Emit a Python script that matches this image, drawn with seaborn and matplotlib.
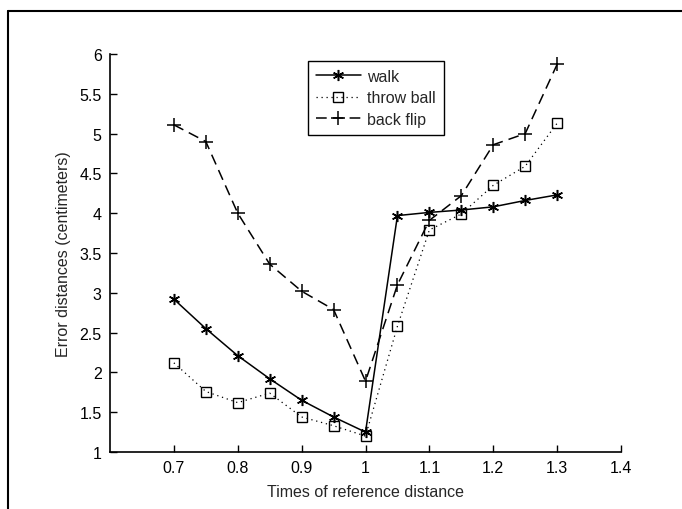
import matplotlib
matplotlib.use("Agg")
import matplotlib.pyplot as plt
import seaborn as sns
import pandas as pd
from matplotlib.lines import Line2D

sns.set_style("ticks")
plt.rcParams['font.family'] = ['Liberation Sans', 'DejaVu Sans']

x = [0.7, 0.75, 0.8, 0.85, 0.9, 0.95, 1.0, 1.05, 1.1, 1.15, 1.2, 1.25, 1.3]
walk = [2.92, 2.55, 2.21, 1.92, 1.65, 1.44, 1.25, 3.97, 4.01, 4.04, 4.08, 4.16, 4.23]
throw_ball = [2.12, 1.76, 1.62, 1.74, 1.44, 1.33, 1.2, 2.58, 3.79, 3.99, 4.35, 4.59, 5.13]
back_flip = [5.11, 4.9, 4.0, 3.36, 3.02, 2.79, 1.89, 3.1, 3.91, 4.22, 4.86, 5.0, 5.87]
labels = ["walk", "throw ball", "back flip"]
xticks = [0.7, 0.8, 0.9, 1.0, 1.1, 1.2, 1.3, 1.4]
yticks = [1, 1.5, 2, 2.5, 3, 3.5, 4, 4.5, 5, 5.5, 6]

fig = plt.figure(figsize=(6.82, 5.10), dpi=100)
ax = fig.add_axes([110/682, 1-453/510, 511/682, 398/510])

FS = 11.5
styles = [
    dict(linestyle='-', linewidth=1.1, marker=(6, 2, 0), markersize=8, mfc='none', mew=1.1),
    dict(linestyle=(0, (1, 3)), linewidth=0.9, marker='s', markersize=7, mfc='none', mew=1.0),
    dict(linestyle=(0, (7, 4)), linewidth=1.1, marker='+', markersize=10, mew=1.1),
]
for lab, vals, st in zip(labels, [walk, throw_ball, back_flip], styles):
    df = pd.DataFrame({"x": x, "y": vals})
    sns.lineplot(data=df, x="x", y="y", ax=ax, color='black',
                 mec='black', label=lab, legend=False, **st)

ax.set_xlim(0.6, 1.4)
ax.set_ylim(1, 6)
ax.set_xticks(xticks)
ax.set_xticklabels(["0.7", "0.8", "0.9", "1", "1.1", "1.2", "1.3", "1.4"])
ax.set_yticks(yticks)
ax.set_yticklabels(["1", "1.5", "2", "2.5", "3", "3.5", "4", "4.5", "5", "5.5", "6"])
ax.tick_params(direction='in', length=5, width=1, labelsize=FS, colors='black', pad=6)
for s in ['top', 'right']:
    ax.spines[s].set_visible(False)
for s in ['left', 'bottom']:
    ax.spines[s].set_linewidth(1.2)
    ax.spines[s].set_color('black')
ax.set_xlabel("Times of reference distance", fontsize=FS, labelpad=6)
ax.set_ylabel("Error distances (centimeters)", fontsize=FS, labelpad=6)

handles = [Line2D([], [], color='black', mec='black', **st) for st in styles]
leg = fig.legend(handles, labels, loc='upper left',
                 bbox_to_anchor=(308/682, 1-62/510), fontsize=FS, borderaxespad=0,
                 frameon=True, fancybox=False, framealpha=1, edgecolor='black',
                 handlelength=2.8, borderpad=0.5, labelspacing=0.4, handletextpad=0.4)
leg.get_frame().set_linewidth(1.0)

# outer frame
fig.add_artist(Line2D([8/682, 8/682], [0, 1-12/510], transform=fig.transFigure, color='black', lw=1.5))
fig.add_artist(Line2D([8/682, 1], [1-12/510, 1-12/510], transform=fig.transFigure, color='black', lw=1.5))

fig.savefig("out.png", dpi=100)
